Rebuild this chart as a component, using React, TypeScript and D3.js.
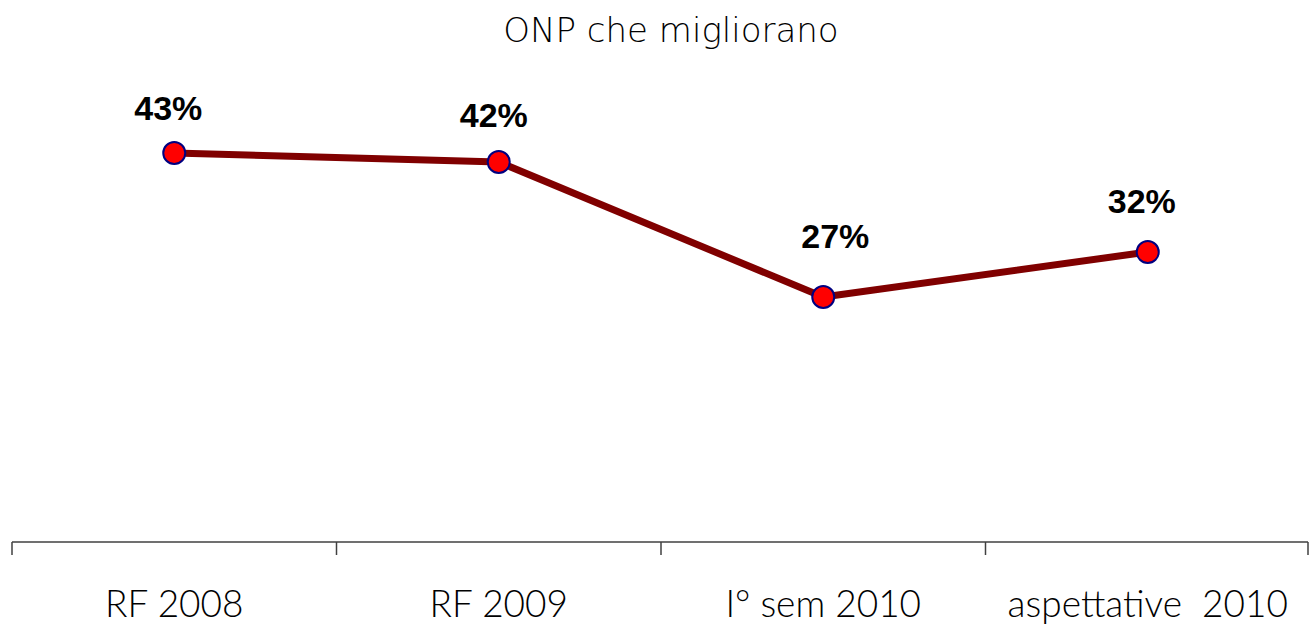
import React from "react";
import * as d3 from "d3";

const categories = ["RF 2008", "RF 2009", "I° sem 2010", "aspettative  2010"];
const values = [43, 42, 27, 32];
const title = "ONP che migliorano";

// label placement offsets relative to each point (layout, not data)
const labelDx = [-6, -5, 12, -6];
const labelDy = [-33, -35, -49, -39];

export default function App() {
  const W = 1312, H = 625;
  const x = d3.scaleBand<string>().domain(categories).range([12, 1310]);
  const y = d3.scaleLinear().domain([0, 50]).range([540, 90]);
  const axisY = 542;
  const pts = categories.map((c, i) => [x(c)! + x.bandwidth() / 2, y(values[i])] as [number, number]);
  const line = d3.line()(pts) || "";
  const boundaries = [...categories.map((c) => x(c)!), x.range()[1] - 2];
  return (
    <svg width={W} height={H} style={{ position: "absolute", left: 0, top: 0, background: "#fff" }}>
      <text x={671} y={42} textAnchor="middle" fontFamily="'DejaVu Sans', sans-serif" fontSize={34} fontWeight={300} fill="#000">
        {title}
      </text>
      <line x1={12} x2={1308} y1={axisY} y2={axisY} stroke="#404040" strokeWidth={1.5} />
      {boundaries.map((b, i) => (
        <line key={i} x1={b} x2={b} y1={axisY} y2={axisY + 13} stroke="#404040" strokeWidth={1.5} />
      ))}
      {categories.map((c) => (
        <text key={c} x={x(c)! + x.bandwidth() / 2} y={617} textAnchor="middle" fontFamily="Lato, 'DejaVu Sans', sans-serif" fontSize={37} fontWeight={300} fill="#000" style={{ whiteSpace: "pre" }}>
          {c}
        </text>
      ))}
      <path d={line} fill="none" stroke="#800000" strokeWidth={7} strokeLinejoin="round" />
      {pts.map((p, i) => (
        <g key={i}>
          <circle cx={p[0]} cy={p[1]} r={11} fill="#ff0000" stroke="#000080" strokeWidth={2} />
          <text x={p[0] + labelDx[i]} y={p[1] + labelDy[i]} textAnchor="middle" fontFamily="'Liberation Sans', Arial, sans-serif" fontWeight="bold" fontSize={34} fill="#000">
            {values[i]}%
          </text>
        </g>
      ))}
    </svg>
  );
}
